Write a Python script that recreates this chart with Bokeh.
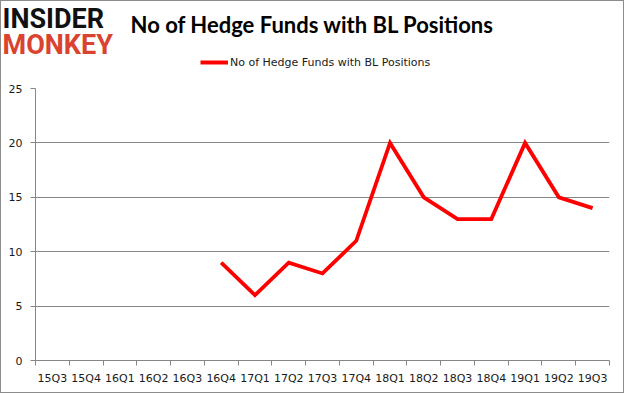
from bokeh.plotting import figure
from bokeh.layouts import column
from bokeh.models import FixedTicker, Legend, LegendItem, ColumnDataSource, Range1d
from bokeh.core.properties import value
from bokeh.embed import file_html
from bokeh.resources import INLINE

quarters = ["15Q3", "15Q4", "16Q1", "16Q2", "16Q3", "16Q4", "17Q1", "17Q2", "17Q3",
            "17Q4", "18Q1", "18Q2", "18Q3", "18Q4", "19Q1", "19Q2", "19Q3"]
funds = [None, None, None, None, None, 9, 6, 9, 8, 11, 20, 15, 13, 13, 20, 15, 14]
y_ticks = [0, 5, 10, 15, 20, 25]
title_text = "No of Hedge Funds with BL Positions"
series_name = "No of Hedge Funds with BL Positions"
logo_top = "INSIDER"
logo_bottom = "MONKEY"

W = 622
HH = 76          # header height
HM = 315         # main plot height
FL, FR, FT, FB = 34, 608, 11, 283  # frame edges inside main figure

line_color = "#ff0000"
grid_color = "#868686"
tick_font = "DejaVu Sans"
tick_color = "#1a1a1a"

# ---------- header: logo, title, legend ----------
h = figure(width=W, height=HH, output_backend="svg", toolbar_location=None,
           x_range=Range1d(0, W), y_range=Range1d(HH, 0),
           min_border=0, x_axis_type=None, y_axis_type=None)
h.frame_align = False
h.outline_line_color = None
h.xgrid.visible = False
h.ygrid.visible = False
h.background_fill_color = "white"
h.border_fill_color = "white"

h.text(x=[311], y=[23], text=[title_text], text_align="center", text_baseline="alphabetic",
       text_font=value("Lato"), text_font_style="bold", text_font_size="22px",
       text_color="#000000")
h.text(x=[1], y=[17], text=[logo_top], text_align="left", text_baseline="alphabetic",
       text_font=value("Roboto"), text_font_style="bold", text_font_size="27px",
       text_color="#111111")
h.text(x=[1], y=[43], text=[logo_bottom], text_align="left", text_baseline="alphabetic",
       text_font=value("Roboto"), text_font_style="bold", text_font_size="27px",
       text_color="#d9432f")

dummy = h.line(x=[float("nan")], y=[float("nan")], line_color=line_color, line_width=4)
legend = Legend(items=[LegendItem(label=series_name, renderers=[dummy])],
                location=(199, 5), orientation="horizontal",
                glyph_width=28, glyph_height=20, label_height=20,
                label_standoff=2, padding=0, margin=0, spacing=0,
                border_line_color=None, background_fill_alpha=0,
                label_text_font=tick_font, label_text_font_size="11px",
                label_text_color=tick_color)
h.add_layout(legend, "center")

# ---------- main plot ----------
n = len(quarters)
xs = [i + 0.5 for i in range(n)]
ys = [float("nan") if v is None else v for v in funds]
src = ColumnDataSource(dict(x=xs, y=ys))

p = figure(width=W, height=HM, output_backend="svg", toolbar_location=None,
           x_range=Range1d(0, n), y_range=Range1d(0, 25),
           min_border_left=FL, min_border_right=W - FR,
           min_border_top=FT, min_border_bottom=HM - FB)
p.frame_align = False
p.outline_line_color = None
p.background_fill_color = "white"
p.border_fill_color = "white"

p.line("x", "y", source=src, line_color=line_color, line_width=3.8, line_join="miter")

xa = p.xaxis[0]
xa.ticker = FixedTicker(ticks=xs, minor_ticks=list(range(n + 1)))
xa.major_label_overrides = {x: q for x, q in zip(xs, quarters)}
xa.major_tick_out = 0
xa.major_tick_in = 0
xa.minor_tick_out = 5
xa.minor_tick_in = 0
xa.minor_tick_line_color = grid_color
xa.axis_line_color = grid_color
xa.major_label_standoff = 6
xa.major_label_text_font = tick_font
xa.major_label_text_font_size = "11px"
xa.major_label_text_color = tick_color
p.xgrid.grid_line_color = None

ya = p.yaxis[0]
ya.ticker = FixedTicker(ticks=y_ticks, minor_ticks=[])
ya.major_tick_out = 5
ya.major_tick_in = 0
ya.major_tick_line_color = grid_color
ya.axis_line_color = grid_color
ya.major_label_standoff = 8
ya.major_label_text_font = tick_font
ya.major_label_text_font_size = "11px"
ya.major_label_text_color = tick_color
p.ygrid.ticker = FixedTicker(ticks=y_ticks)
p.ygrid.grid_line_color = grid_color

layout = column(h, p, spacing=0, styles={"border": "1px solid #8c8c8c"})

open("out.html", "w").write(file_html(layout, INLINE))
